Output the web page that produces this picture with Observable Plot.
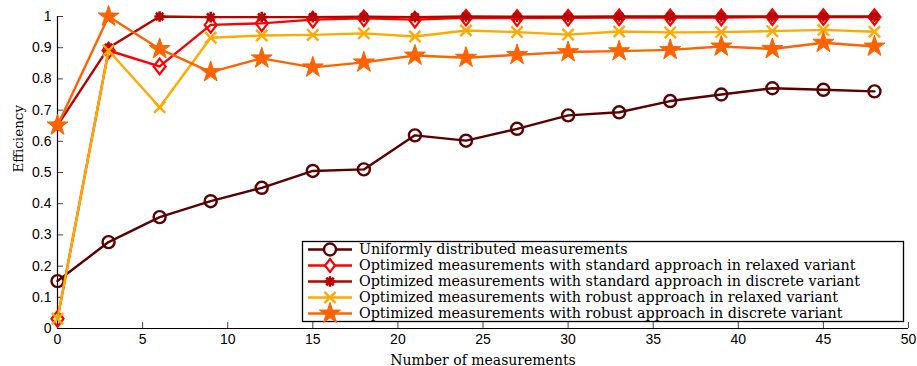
<!DOCTYPE html>
<html>
<head>
<meta charset="utf-8">
<script src="https://cdn.jsdelivr.net/npm/d3@7"></script>
<script src="https://cdn.jsdelivr.net/npm/@observablehq/plot@0.6"></script>
<style>
  html, body { margin: 0; padding: 0; background: #fff; }
  #wrap { position: relative; width: 917px; height: 366px; }
  #legend { position: absolute; left: 0; top: 0; }
</style>
</head>
<body>
<div id="wrap"></div>
<script>
const measurements = [0, 3, 6, 9, 12, 15, 18, 21, 24, 27, 30, 33, 36, 39, 42, 45, 48];
const uniform      = [0.152, 0.277, 0.357, 0.408, 0.451, 0.505, 0.51, 0.619, 0.602, 0.64, 0.683, 0.693, 0.729, 0.75, 0.77, 0.765, 0.76];
const stdRelaxed   = [0.031, 0.891, 0.84, 0.973, 0.978, 0.99, 0.994, 0.99, 0.996, 0.995, 0.996, 0.997, 0.997, 0.997, 0.998, 0.998, 0.998];
const stdDiscrete  = [0.651, 0.90, 1.0, 0.998, 0.998, 0.998, 0.999, 0.998, 1.0, 0.999, 0.999, 1.0, 1.0, 1.0, 1.0, 1.0, 1.0];
const robRelaxed   = [0.031, 0.891, 0.709, 0.932, 0.939, 0.941, 0.946, 0.936, 0.955, 0.95, 0.942, 0.952, 0.949, 0.95, 0.953, 0.957, 0.951];
const robDiscrete  = [0.651, 1.0, 0.896, 0.822, 0.866, 0.837, 0.853, 0.875, 0.868, 0.877, 0.886, 0.889, 0.893, 0.904, 0.896, 0.916, 0.904];

const seriesNames = [
  "Uniformly distributed measurements",
  "Optimized measurements with standard approach in relaxed variant",
  "Optimized measurements with standard approach in discrete variant",
  "Optimized measurements with robust approach in relaxed variant",
  "Optimized measurements with robust approach in discrete variant"
];
const seriesValues = [uniform, stdRelaxed, stdDiscrete, robRelaxed, robDiscrete];
const seriesColors = ["#5a0000", "#ff0000", "#b80000", "#ffaa00", "#ff6300"];

// MATLAB-like marker shapes
const diamondWide = {
  draw(ctx, size) {
    const r = Math.sqrt(size / Math.PI), h = r * 1.3, w = r * 1.0;
    ctx.moveTo(0, -h); ctx.lineTo(w, 0); ctx.lineTo(0, h); ctx.lineTo(-w, 0); ctx.closePath();
  }
};
const asterisk8 = {
  draw(ctx, size) {
    const r = Math.sqrt(size / Math.PI);
    for (let k = 0; k < 4; k++) {
      const a = k * Math.PI / 4, c = Math.cos(a) * r, s = Math.sin(a) * r;
      ctx.moveTo(-c, -s); ctx.lineTo(c, s);
    }
  }
};
const seriesSymbols = [d3.symbolCircle, diamondWide, asterisk8, d3.symbolTimes, d3.symbolStar];
const seriesR = [6, 6, 5.3, 5.2, 6.6];
const seriesSW = [2.4, 2.2, 2.6, 2.4, 1];
const seriesFilled = [false, false, false, false, true];

const xTicks = [0, 5, 10, 15, 20, 25, 30, 35, 40, 45, 50];
const yTicks = [0, 0.1, 0.2, 0.3, 0.4, 0.5, 0.6, 0.7, 0.8, 0.9, 1];
const yTickLabels = ["0", "0.1", "0.2", "0.3", "0.4", "0.5", "0.6", "0.7", "0.8", "0.9", "1"];

const xLabel = "Number of measurements";
const yLabel = "Efficiency";

const rows = seriesValues.map((vals, s) => vals.map((v, i) => ({x: measurements[i], y: v, s})));

const marks = [];
rows.forEach((data, s) => {
  marks.push(Plot.line(data, {x: "x", y: "y", stroke: seriesColors[s], strokeWidth: 2.4}));
  marks.push(Plot.dot(data, {
    x: "x", y: "y", symbol: () => seriesSymbols[s], r: seriesR[s],
    stroke: seriesColors[s], strokeWidth: seriesSW[s],
    fill: seriesFilled[s] ? seriesColors[s] : "none"
  }));
});

const serif = "'DejaVu Serif', serif";
const sans = "'Liberation Sans', Arial, sans-serif";

const chart = Plot.plot({
  width: 917,
  height: 366,
  marginLeft: 57,
  marginRight: 9,
  marginTop: 16,
  marginBottom: 38,
  style: {fontFamily: sans, fontSize: "14px", color: "#000", background: "#fff"},
  x: {domain: [0, 50], ticks: xTicks},
  y: {domain: [0, 1], ticks: yTicks},
  marks: [
    Plot.axisX({ticks: xTicks, tickSize: -6, tickPadding: 12, fontSize: 14, label: null, stroke: "#444"}),
    Plot.axisY({ticks: yTicks, tickSize: -6, tickPadding: 12, fontSize: 14, label: null, stroke: "#444",
      tickFormat: (d) => yTickLabels[yTicks.indexOf(d)]}),
    Plot.ruleY([0], {stroke: "#000", strokeWidth: 1.2}),
    Plot.ruleX([0], {stroke: "#000", strokeWidth: 1.2}),
    ...marks,
    Plot.text([xLabel], {frameAnchor: "bottom", dy: 36, lineAnchor: "bottom", fontFamily: serif, fontSize: 14, fill: "#000"}),
    Plot.text([yLabel], {frameAnchor: "left", dx: -39, rotate: -90, fontFamily: serif, fontSize: 13.5, fill: "#000"})
  ]
});

const wrap = document.getElementById("wrap");
wrap.appendChild(chart);

// Legend overlay
const lg = d3.select(wrap).append("svg")
  .attr("id", "legend")
  .attr("width", 917).attr("height", 366)
  .style("pointer-events", "none");
const box = {x: 302, y: 241, w: 601, h: 80};
lg.append("rect").attr("x", box.x + 0.5).attr("y", box.y + 0.5).attr("width", box.w).attr("height", box.h)
  .attr("fill", "#fff").attr("stroke", "#000").attr("stroke-width", 1.3);
seriesNames.forEach((name, s) => {
  const cy = box.y + 8.5 + s * 16;
  const g = lg.append("g");
  g.append("line").attr("x1", box.x + 6).attr("x2", box.x + 50).attr("y1", cy).attr("y2", cy)
    .attr("stroke", seriesColors[s]).attr("stroke-width", 2.4);
  const legR = s === 1 ? 5 : seriesR[s];
  g.append("path").attr("transform", `translate(${box.x + 28},${cy})`)
    .attr("d", d3.symbol(seriesSymbols[s], Math.PI * legR * legR)())
    .attr("stroke", seriesColors[s]).attr("stroke-width", seriesSW[s])
    .attr("fill", seriesFilled[s] ? seriesColors[s] : "#fff");
  g.append("text").attr("x", box.x + 57).attr("y", cy + 4.5)
    .attr("font-family", serif).attr("font-size", 14.3).attr("fill", "#000").text(name);
});
</script>
</body>
</html>
